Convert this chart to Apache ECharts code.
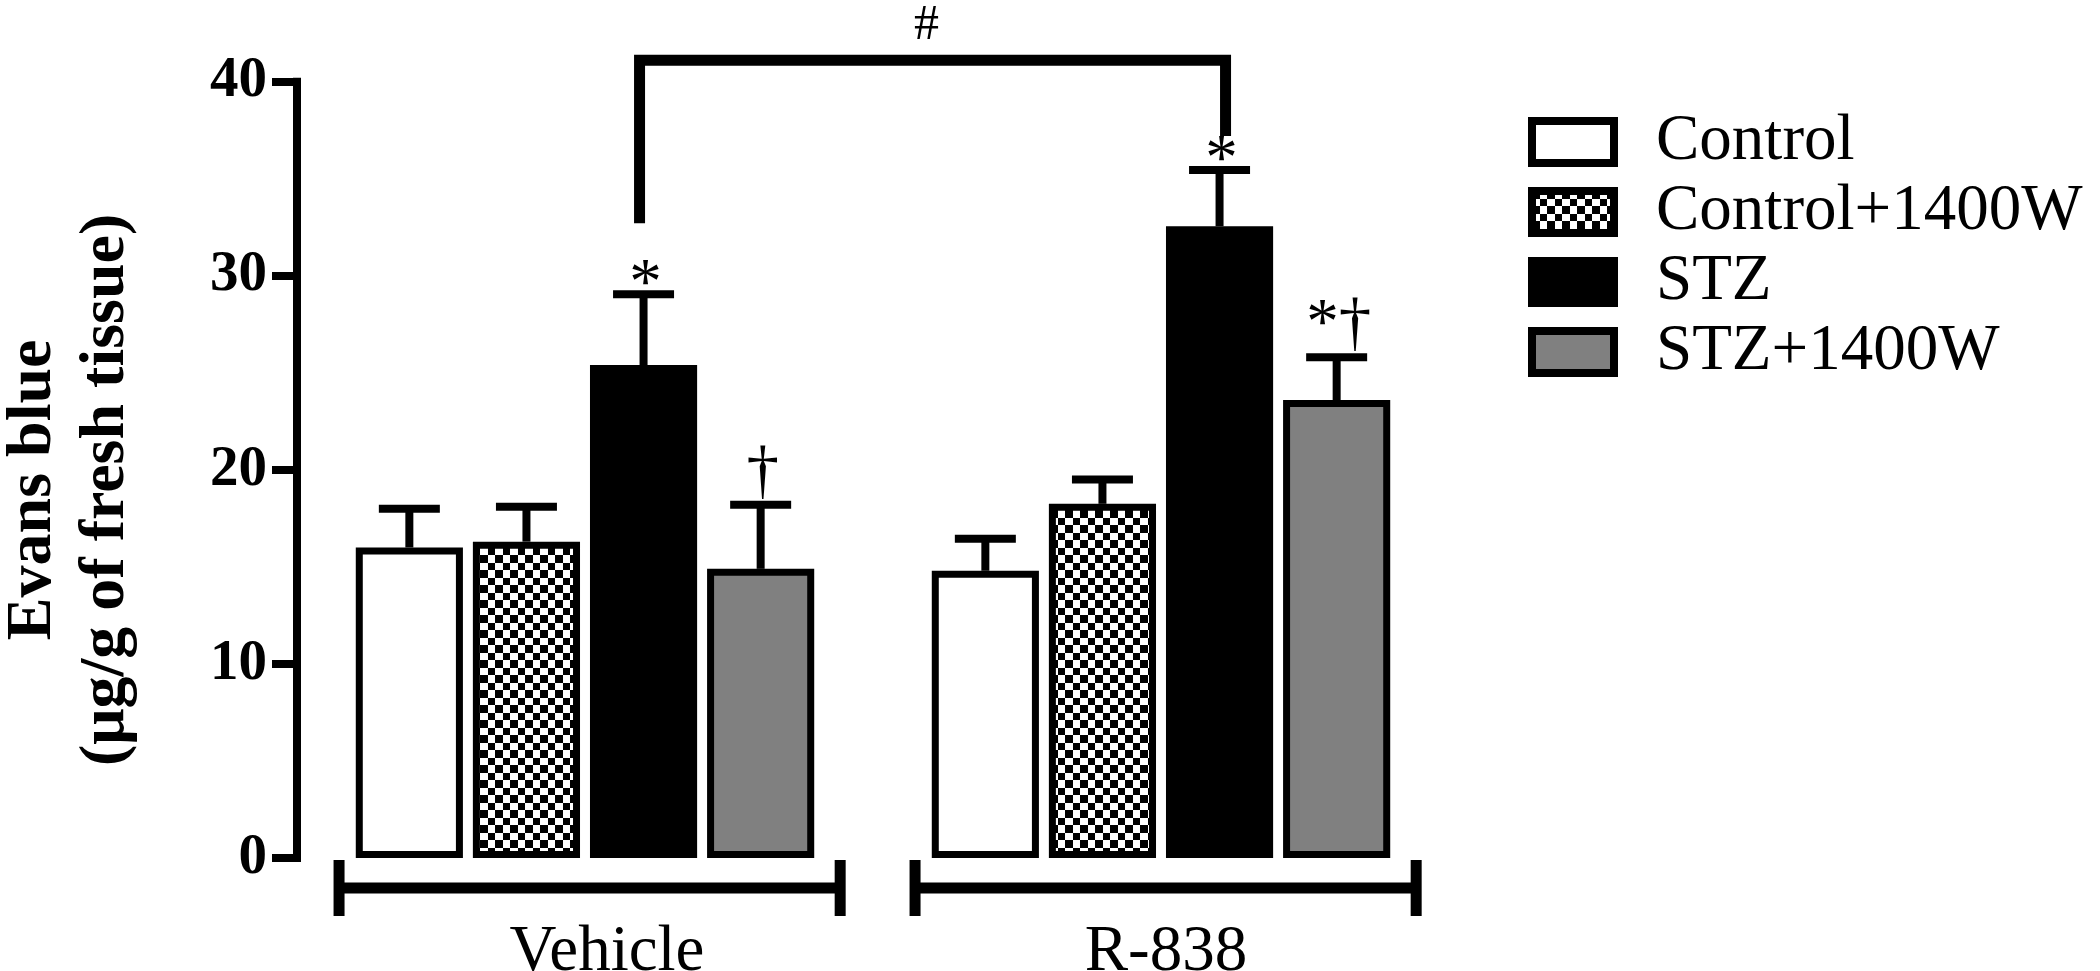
<!DOCTYPE html>
<html>
<head>
<meta charset="utf-8">
<script src="https://cdn.jsdelivr.net/npm/echarts@6/dist/echarts.min.js"></script>
<style>
html, body { margin: 0; padding: 0; background: #fff; }
#chart { width: 2100px; height: 971px; }
</style>
</head>
<body>
<div id="chart"></div>
<script>
// data
var groups = ['Vehicle', 'R-838'];
var seriesNames = ['Control', 'Control+1400W', 'STZ', 'STZ+1400W'];
var controlMean = [16.0, 14.8];
var control1400Mean = [16.3, 18.25];
var stzMean = [25.4, 32.55];
var stz1400Mean = [14.9, 23.6];
var controlErr = [2.0, 1.65];
var control1400Err = [1.8, 1.25];
var stzErr = [3.65, 2.9];
var stz1400Err = [3.3, 2.2];
var marks = [['', ''], ['', ''], ['*', '*'], ['†', '*†']];
var hashBracket = [41.1, 32.7, 37.2]; // top, left end, right end
var hashLabel = '#';

var FONT = '"Liberation Serif", "Times New Roman", serif';
var BAR_FRAC = 0.186;
var GAP_FRAC = 0.093;

// checkerboard fill, cells about 7.5px
function checker() {
    var c = document.createElement('canvas');
    c.width = 15;
    c.height = 15;
    var ctx = c.getContext('2d');
    ctx.fillStyle = '#fff';
    ctx.fillRect(0, 0, 15, 15);
    ctx.fillStyle = '#000';
    ctx.fillRect(0, 0, 8, 8);
    ctx.fillRect(8, 8, 7, 7);
    return c;
}

function barOffset(s, band) {
    var w = band * BAR_FRAC;
    return (s - 1.5) * (w + w * GAP_FRAC);
}

var means = [controlMean, control1400Mean, stzMean, stz1400Mean];
var errs = [controlErr, control1400Err, stzErr, stz1400Err];
var fills = ['#fff', { image: checker(), repeat: 'repeat' }, '#000', '#808080'];

var errData = [];
for (var s = 0; s < means.length; s++) {
    for (var g = 0; g < groups.length; g++) {
        errData.push([g, s, means[s][g], errs[s][g]]);
    }
}

var series = [];
for (var i = 0; i < seriesNames.length; i++) {
    series.push({
        name: seriesNames[i],
        type: 'bar',
        data: means[i],
        barWidth: (BAR_FRAC * 100) + '%',
        barGap: (GAP_FRAC * 100) + '%',
        itemStyle: { color: fills[i], borderColor: '#000', borderWidth: 7 },
        emphasis: { disabled: true },
        z: 2
    });
}

// error bars + significance marks
series.push({
    type: 'custom',
    data: errData,
    z: 3,
    silent: true,
    renderItem: function (params, api) {
        var g = api.value(0), s = api.value(1), m = api.value(2), e = api.value(3);
        var band = api.size([1, 0])[0];
        var x = api.coord([g, 0])[0] + barOffset(s, band);
        var y0 = api.coord([g, m])[1];
        var y1 = api.coord([g, m + e])[1];
        var kids = [
            { type: 'line', shape: { x1: x, y1: y0, x2: x, y2: y1 }, style: { stroke: '#000', lineWidth: 8 } },
            { type: 'line', shape: { x1: x - 30.5, y1: y1, x2: x + 30.5, y2: y1 }, style: { stroke: '#000', lineWidth: 8 } }
        ];
        var mk = marks[s][g];
        if (mk) {
            var dy = mk.indexOf('†') >= 0 ? -31 : -8;
            kids.push({
                type: 'text',
                x: x + 2,
                y: y1 + dy,
                style: { text: mk, font: '65px ' + FONT, fill: '#000', align: 'center', verticalAlign: 'middle' }
            });
        }
        return { type: 'group', children: kids };
    }
});

// # bracket between the two STZ bars
series.push({
    type: 'custom',
    data: [[0, 1, hashBracket[0], hashBracket[1], hashBracket[2]]],
    z: 3,
    silent: true,
    renderItem: function (params, api) {
        var band = api.size([1, 0])[0];
        var xL = api.coord([api.value(0), 0])[0] + barOffset(2, band) - 4;
        var xR = api.coord([api.value(1), 0])[0] + barOffset(2, band) + 6;
        var yT = api.coord([0, api.value(2)])[1];
        var yL = api.coord([0, api.value(3)])[1];
        var yR = api.coord([0, api.value(4)])[1];
        return {
            type: 'group',
            children: [
                { type: 'polyline', shape: { points: [[xL, yL], [xL, yT], [xR, yT], [xR, yR]] },
                  style: { stroke: '#000', lineWidth: 11, fill: null, lineJoin: 'miter' } },
                { type: 'text', x: (xL + xR) / 2 - 6, y: yT - 34,
                  style: { text: hashLabel, font: '50px ' + FONT, fill: '#000', align: 'center', verticalAlign: 'middle' } }
            ]
        };
    }
});

// group brackets under the x axis
series.push({
    type: 'custom',
    data: [[0], [1]],
    z: 3,
    silent: true,
    renderItem: function (params, api) {
        var c = api.coord([api.value(0), 0]);
        var band = api.size([1, 0])[0];
        var xL = c[0] - band / 2 + band * 0.073;
        var xR = c[0] + band / 2 - band * 0.057;
        var y = c[1] + 30;
        var st = { stroke: '#000', lineWidth: 11 };
        return {
            type: 'group',
            children: [
                { type: 'line', shape: { x1: xL, y1: y, x2: xR, y2: y }, style: st },
                { type: 'line', shape: { x1: xL, y1: y - 28, x2: xL, y2: y + 28 }, style: st },
                { type: 'line', shape: { x1: xR, y1: y - 28, x2: xR, y2: y + 28 }, style: st }
            ]
        };
    }
});

var chart = echarts.init(document.getElementById('chart'));
chart.setOption({
    backgroundColor: '#fff',
    animation: false,
    textStyle: { fontFamily: FONT, color: '#000' },
    grid: { left: 297, right: 651, top: 81.7, bottom: 113, outerBoundsMode: 'none', containLabel: false },
    legend: {
        data: seriesNames,
        orient: 'vertical',
        left: 1528,
        top: 107,
        padding: 0,
        itemGap: 0,
        icon: 'rect',
        itemWidth: 82,
        itemHeight: 42,
        itemStyle: { borderColor: '#000', borderWidth: 8 },
        selectedMode: false,
        textStyle: { fontFamily: FONT, fontSize: 65, color: '#000', lineHeight: 70, padding: [0, 0, 0, 37] }
    },
    xAxis: {
        type: 'category',
        data: groups,
        axisLine: { show: false },
        axisTick: { show: false },
        axisLabel: {
            fontFamily: FONT,
            fontSize: 65,
            color: '#000',
            margin: 62,
            formatter: function (v, idx) {
                return idx === 0 ? '{a|' + v + '}' : '{b|' + v + '}';
            },
            rich: {
                a: { fontFamily: FONT, fontSize: 65, color: '#000', padding: [0, 0, 0, 44] },
                b: { fontFamily: FONT, fontSize: 65, color: '#000', padding: [0, 0, 0, 10] }
            }
        }
    },
    yAxis: {
        type: 'value',
        min: 0,
        max: 40,
        interval: 10,
        name: 'Evans blue\n(μg/g of fresh tissue)',
        nameLocation: 'middle',
        nameGap: 154,
        nameRotate: 90,
        nameTextStyle: { fontFamily: FONT, fontWeight: 'bold', fontSize: 64, lineHeight: 73, color: '#000', padding: [0, 40, 0, 0] },
        axisLine: { show: true, lineStyle: { color: '#000', width: 8, cap: 'square' } },
        axisTick: { show: true, length: 25, lineStyle: { color: '#000', width: 8 } },
        axisLabel: { fontFamily: FONT, fontWeight: 'bold', fontSize: 57, color: '#000', margin: 30 },
        splitLine: { show: false }
    },
    series: series
});
</script>
</body>
</html>
